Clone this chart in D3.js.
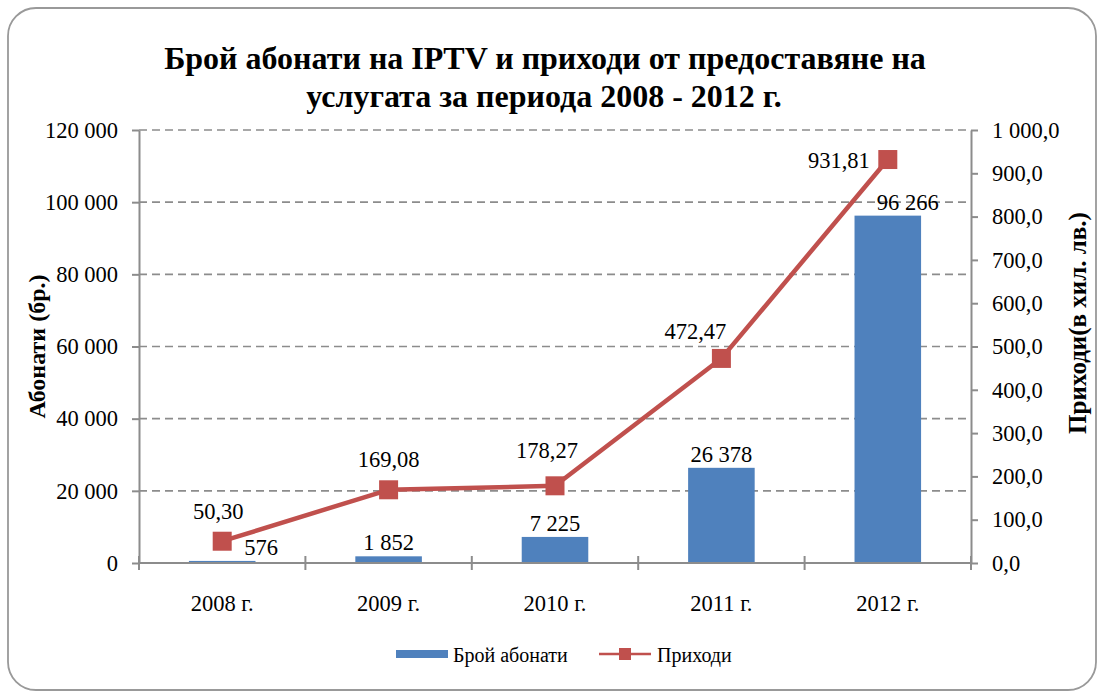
<!DOCTYPE html>
<html>
<head>
<meta charset="utf-8">
<script src="https://cdn.jsdelivr.net/npm/d3@7"></script>
<style>
  body { margin: 0; background: #fff; }
  svg text { font-family: "Liberation Serif", "Times New Roman", serif; fill: #000; }
</style>
</head>
<body>
<div id="chart"></div>
<script>
"use strict";

// data
var years = ["2008 г.", "2009 г.", "2010 г.", "2011 г.", "2012 г."];
var subscribers = [576, 1852, 7225, 26378, 96266];
var revenue = [50.30, 169.08, 178.27, 472.47, 931.81];
var leftTicks = [0, 20000, 40000, 60000, 80000, 100000, 120000];
var rightTicks = [0, 100, 200, 300, 400, 500, 600, 700, 800, 900, 1000];

// label nudges (Excel labels were dragged around a bit)
var barLabelDx = [39, 0, 0, 0, 20];
var lineLabelPlace = [
  { dx: -4, dy: -22, anchor: "middle" },
  { dx: 0, dy: -23, anchor: "middle" },
  { dx: -8, dy: -28, anchor: "middle" },
  { dx: -26, dy: -19, anchor: "middle" },
  { dx: -18, dy: 8, anchor: "end" }
];

var W = 1104, H = 694;
var margin = { top: 130, right: 133, bottom: 131, left: 139 };
var width = W - margin.left - margin.right,
    height = H - margin.top - margin.bottom;

var locale = d3.formatLocale({ decimal: ",", thousands: "\u00a0", grouping: [3], currency: ["", ""] });
var fmtInt = locale.format(",.0f");
var fmtOne = locale.format(",.1f");
var fmtTwo = locale.format(",.2f");

var blue = "#4f81bd", red = "#c0504d", grey = "#8c8c8c";
var numSize = "22.5px";

var svg = d3.select("#chart").append("svg")
  .attr("width", W).attr("height", H);

// outer frame
svg.append("rect")
  .attr("x", 8).attr("y", 8)
  .attr("width", 1088).attr("height", 682)
  .attr("rx", 28).attr("ry", 28)
  .attr("fill", "#fff")
  .attr("stroke", "#999").attr("stroke-width", 1.8);

// title
var title = svg.append("text")
  .attr("text-anchor", "middle")
  .style("font-size", "32px").style("font-weight", "bold");
title.append("tspan").attr("x", 545).attr("y", 69).text("Брой абонати на IPTV и приходи от предоставяне на");
title.append("tspan").attr("x", 544).attr("y", 107).text("услугата за периода 2008 - 2012 г.");

var g = svg.append("g")
  .attr("transform", "translate(" + margin.left + "," + margin.top + ")");

// scales
var x = d3.scaleBand().domain(years).range([0, width]).paddingInner(0.6).paddingOuter(0.3);
var yL = d3.scaleLinear().domain([0, 120000]).range([height, 0]);
var yR = d3.scaleLinear().domain([0, 1000]).range([height, 0]);

// gridlines
g.selectAll(".grid")
  .data(leftTicks.slice(1))
  .enter().append("line")
  .attr("class", "grid")
  .attr("x1", 0).attr("x2", width)
  .attr("y1", function (d) { return yL(d); })
  .attr("y2", function (d) { return yL(d); })
  .attr("stroke", grey).attr("stroke-width", 1.6)
  .attr("stroke-dasharray", "8,5");

// left axis
var leftAxis = g.append("g")
  .call(d3.axisLeft(yL).tickValues(leftTicks).tickSize(7).tickSizeOuter(0).tickPadding(14).tickFormat(fmtInt));
// right axis
var rightAxis = g.append("g")
  .attr("transform", "translate(" + width + ",0)")
  .call(d3.axisRight(yR).tickValues(rightTicks).tickSize(7).tickSizeOuter(0).tickPadding(14).tickFormat(fmtOne));

[leftAxis, rightAxis].forEach(function (a) {
  a.attr("font-family", null).attr("font-size", null);
  a.select(".domain").attr("stroke", grey).attr("stroke-width", 2);
  a.selectAll(".tick line").attr("stroke", grey).attr("stroke-width", 2);
  a.selectAll(".tick text").style("font-size", numSize).attr("fill", "#000");
});

// bars
g.selectAll(".bar")
  .data(subscribers)
  .enter().append("rect")
  .attr("class", "bar")
  .attr("x", function (d, i) { return x(years[i]); })
  .attr("width", x.bandwidth())
  .attr("y", function (d) { return yL(d); })
  .attr("height", function (d) { return height - yL(d); })
  .attr("fill", blue);

// bottom axis (drawn above bars so the baseline shows)
var step = x.step();
var boundaries = d3.range(years.length + 1).map(function (i) { return i * step; });
g.append("line")
  .attr("x1", 0).attr("x2", width)
  .attr("y1", height).attr("y2", height)
  .attr("stroke", grey).attr("stroke-width", 2);
g.selectAll(".xtick")
  .data(boundaries)
  .enter().append("line")
  .attr("x1", function (d) { return d; }).attr("x2", function (d) { return d; })
  .attr("y1", height - 7).attr("y2", height + 7)
  .attr("stroke", grey).attr("stroke-width", 2);
g.selectAll(".xlabel")
  .data(years)
  .enter().append("text")
  .attr("x", function (d) { return x(d) + x.bandwidth() / 2; })
  .attr("y", height + 48)
  .attr("text-anchor", "middle")
  .style("font-size", numSize)
  .text(function (d) { return d; });

// bar labels
g.selectAll(".barlabel")
  .data(subscribers)
  .enter().append("text")
  .attr("x", function (d, i) { return x(years[i]) + x.bandwidth() / 2 + barLabelDx[i]; })
  .attr("y", function (d) { return yL(d) - 6; })
  .attr("text-anchor", "middle")
  .style("font-size", numSize)
  .text(function (d) { return fmtInt(d); });

// revenue line
var cx = function (i) { return x(years[i]) + x.bandwidth() / 2; };
var line = d3.line()
  .x(function (d, i) { return cx(i); })
  .y(function (d) { return yR(d); });
g.append("path")
  .datum(revenue)
  .attr("d", line)
  .attr("fill", "none")
  .attr("stroke", red).attr("stroke-width", 4.5)
  .attr("stroke-linejoin", "round");

var ms = 19;
g.selectAll(".marker")
  .data(revenue)
  .enter().append("rect")
  .attr("x", function (d, i) { return cx(i) - ms / 2; })
  .attr("y", function (d) { return yR(d) - ms / 2; })
  .attr("width", ms).attr("height", ms)
  .attr("fill", red);

g.selectAll(".linelabel")
  .data(revenue)
  .enter().append("text")
  .attr("x", function (d, i) { return cx(i) + lineLabelPlace[i].dx; })
  .attr("y", function (d, i) { return yR(d) + lineLabelPlace[i].dy; })
  .attr("text-anchor", function (d, i) { return lineLabelPlace[i].anchor; })
  .style("font-size", numSize)
  .text(function (d) { return fmtTwo(d); });

// axis titles
svg.append("text")
  .attr("transform", "translate(45," + (margin.top + height / 2) + ") rotate(-90)")
  .attr("text-anchor", "middle")
  .style("font-size", "24px").style("font-weight", "bold")
  .text("Абонати (бр.)");
svg.append("text")
  .attr("transform", "translate(1086,323) rotate(-90)")
  .attr("text-anchor", "middle")
  .style("font-size", "25px").style("font-weight", "bold")
  .text("Приходи(в хил. лв.)");

// legend
var lg = svg.append("g").attr("transform", "translate(396,654)");
lg.append("rect").attr("x", 0).attr("y", -4).attr("width", 52).attr("height", 8).attr("fill", blue);
lg.append("text").attr("x", 57).attr("y", 8).style("font-size", "20px").text("Брой абонати");
lg.append("line").attr("x1", 203).attr("x2", 255).attr("y1", 0).attr("y2", 0)
  .attr("stroke", red).attr("stroke-width", 2.5);
lg.append("rect").attr("x", 223).attr("y", -6).attr("width", 12).attr("height", 12).attr("fill", red);
lg.append("text").attr("x", 261).attr("y", 8).style("font-size", "20px").text("Приходи");
</script>
</body>
</html>
